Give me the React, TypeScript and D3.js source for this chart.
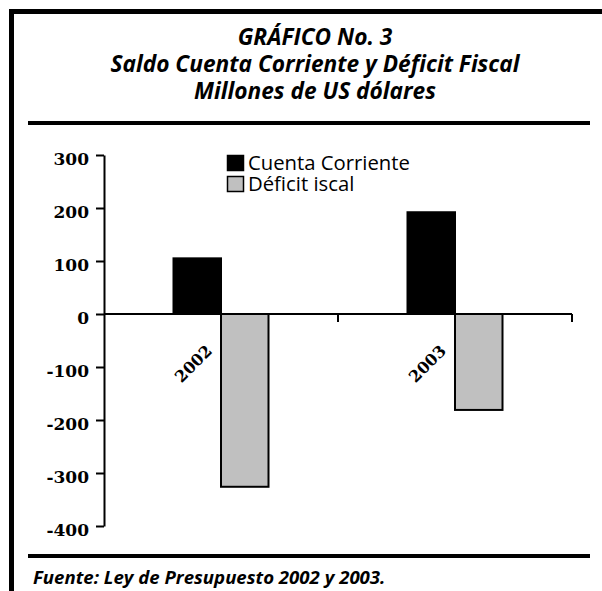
import { useEffect, useRef } from "react";
import * as d3 from "d3";

const years = ["2002", "2003"];
const seriesNames = ["Cuenta Corriente", "Déficit iscal"];
const cuentaCorriente = [105, 192];
const deficitFiscal = [-326, -181];
const yTicks = [-400, -300, -200, -100, 0, 100, 200, 300];
const titleLines = [
  "GRÁFICO No. 3",
  "Saldo Cuenta Corriente y Déficit Fiscal",
  "Millones de US dólares",
];
const source = "Fuente: Ley de Presupuesto 2002 y 2003.";

const W = 602;
const H = 591;
const sans = "'Open Sans', Lato, sans-serif";
const serif = "'DejaVu Serif', serif";
const colors = ["#000000", "#c0c0c0"];

const App = () => {
  const svgRef = useRef<SVGSVGElement>(null);

  useEffect(() => {
    const svg = d3.select(svgRef.current);
    svg.selectAll("*").remove();

    // frame
    svg.append("rect").attr("x", 0).attr("y", 0).attr("width", W).attr("height", H).attr("fill", "#fff");
    svg.append("line").attr("x1", 11.5).attr("x2", 11.5).attr("y1", 9).attr("y2", H).attr("stroke", "#000").attr("stroke-width", 5);
    svg.append("line").attr("x1", 9).attr("x2", W).attr("y1", 11.5).attr("y2", 11.5).attr("stroke", "#000").attr("stroke-width", 5);
    svg.append("line").attr("x1", 28).attr("x2", 590).attr("y1", 123).attr("y2", 123).attr("stroke", "#000").attr("stroke-width", 4);
    svg.append("line").attr("x1", 28).attr("x2", 590).attr("y1", 556).attr("y2", 556).attr("stroke", "#000").attr("stroke-width", 4);

    // titles
    svg.selectAll("text.title")
      .data(titleLines)
      .join("text")
      .attr("class", "title")
      .attr("x", 315)
      .attr("y", (d, i) => 45 + i * 27)
      .attr("text-anchor", "middle")
      .attr("font-family", sans)
      .attr("font-weight", "bold")
      .attr("font-style", "italic")
      .attr("font-size", 22.7)
      .text(d => d);

    svg.append("text")
      .attr("x", 33)
      .attr("y", 584)
      .attr("font-family", sans)
      .attr("font-weight", "bold")
      .attr("font-style", "italic")
      .attr("font-size", 18.6)
      .text(source);

    const y = d3.scaleLinear().domain([-400, 300]).range([526, 155]);
    const x = d3.scaleBand().domain(years).range([104, 572]).padding(0);
    const xInner = d3.scaleBand().domain(seriesNames).range([69.5, 164.5]);

    const data = years.map((yr, i) => ({
      year: yr,
      values: [cuentaCorriente[i], deficitFiscal[i]],
    }));

    // bars
    const groups = svg.selectAll("g.grp")
      .data(data)
      .join("g")
      .attr("class", "grp")
      .attr("transform", d => `translate(${x(d.year)},0)`);

    groups.selectAll("rect")
      .data(d => d.values.map((v, k) => ({ v, k })))
      .join("rect")
      .attr("x", d => xInner(seriesNames[d.k])!)
      .attr("width", xInner.bandwidth())
      .attr("y", d => y(Math.max(0, d.v)))
      .attr("height", d => Math.abs(y(d.v) - y(0)))
      .attr("fill", d => colors[d.k])
      .attr("stroke", "#000")
      .attr("stroke-width", 2);

    // y axis
    const yAxis = d3.axisLeft(y).tickValues(yTicks).tickSize(8).tickSizeOuter(0).tickPadding(7).tickFormat(d => String(d));
    const gy = svg.append("g").attr("transform", "translate(104,0)").call(yAxis);
    gy.attr("font-family", serif).attr("font-size", 17).attr("font-weight", "bold");
    gy.selectAll("path, line").attr("stroke", "#000").attr("stroke-width", 2);
    gy.selectAll("text")
      .attr("fill", "#000")
      .attr("dy", "0.55em");

    // x axis at zero
    const gx = svg.append("g");
    gx.append("line")
      .attr("x1", 104).attr("x2", 572)
      .attr("y1", y(0)).attr("y2", y(0))
      .attr("stroke", "#000").attr("stroke-width", 2);
    const boundaries = years.map(yr => x(yr)! + x.bandwidth());
    gx.selectAll("line.tick")
      .data(boundaries)
      .join("line")
      .attr("class", "tick")
      .attr("x1", d => d).attr("x2", d => d)
      .attr("y1", y(0)).attr("y2", y(0) + 8)
      .attr("stroke", "#000").attr("stroke-width", 2);

    gx.selectAll("text.cat")
      .data(years)
      .join("text")
      .attr("class", "cat")
      .attr("transform", d => `translate(${x(d)! + x.bandwidth() / 2 - 8},${y(0) + 38}) rotate(-45)`)
      .attr("text-anchor", "end")
      .attr("font-family", serif)
      .attr("font-weight", "bold")
      .attr("font-size", 16)
      .text(d => d);

    // legend
    const legend = svg.append("g").attr("transform", "translate(227,155)");
    const items = legend.selectAll("g")
      .data(seriesNames)
      .join("g")
      .attr("transform", (d, i) => `translate(0,${i * 21})`);
    items.append("rect")
      .attr("x", 0.5).attr("y", 0.5)
      .attr("width", 16).attr("height", 15)
      .attr("fill", (d, i) => colors[i])
      .attr("stroke", "#000")
      .attr("stroke-width", 1.5);
    items.append("text")
      .attr("x", 21)
      .attr("y", 15)
      .attr("font-family", sans)
      .attr("font-size", 20.3)
      .text(d => d);

    return () => {
      svg.selectAll("*").remove();
    };
  }, []);

  return (
    <svg
      ref={svgRef}
      width={W}
      height={H}
      style={{ position: "absolute", left: 0, top: 0 }}
    ></svg>
  );
};

export default App;
